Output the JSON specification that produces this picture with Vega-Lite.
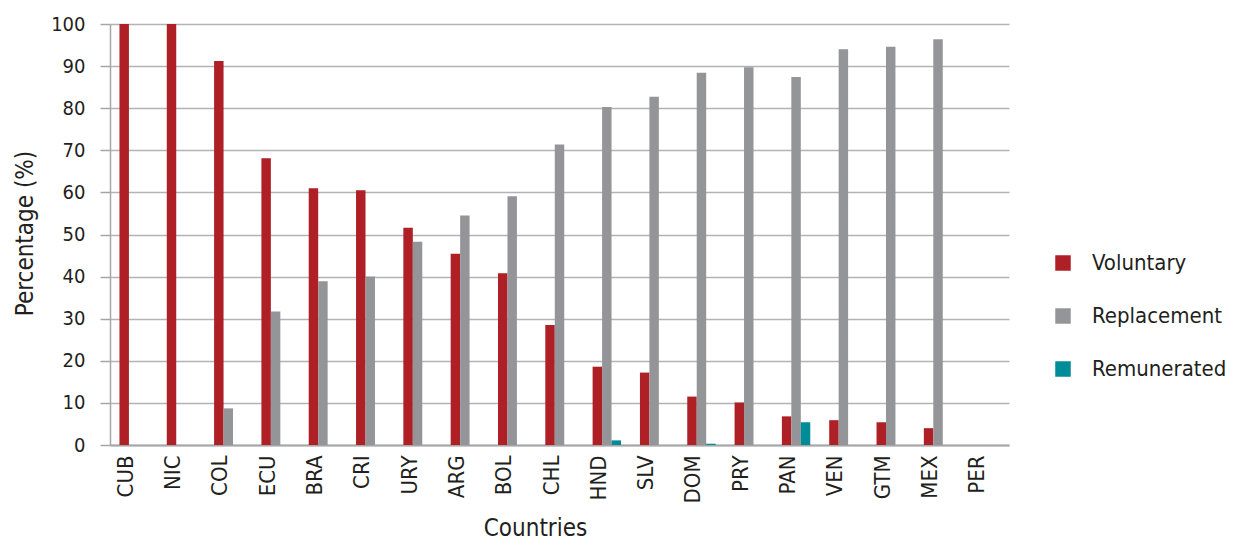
{
  "$schema": "https://vega.github.io/schema/vega-lite/v6.json",
  "width": 899,
  "height": 421,
  "autosize": {"type": "none"},
  "padding": {"left": 110, "top": 24, "right": 224, "bottom": 97},
  "background": "white",
  "config": {
    "view": {"stroke": null},
    "font": "'DejaVu Sans Condensed', 'Roboto Condensed', Roboto, sans-serif",
    "axis": {"labelFont": "'DejaVu Sans Condensed', 'Roboto Condensed', Roboto, sans-serif", "titleFont": "'DejaVu Sans Condensed', 'Roboto Condensed', Roboto, sans-serif", "labelColor": "#231F20", "titleColor": "#231F20", "titleFontWeight": "normal"},
    "legend": {"labelFont": "'DejaVu Sans Condensed', 'Roboto Condensed', Roboto, sans-serif"}
  },
  "data": {
    "values": [
      {"country": "CUB", "type": "Voluntary", "value": 100},
      {"country": "CUB", "type": "Replacement", "value": 0},
      {"country": "CUB", "type": "Remunerated", "value": 0},
      {"country": "NIC", "type": "Voluntary", "value": 100},
      {"country": "NIC", "type": "Replacement", "value": 0},
      {"country": "NIC", "type": "Remunerated", "value": 0},
      {"country": "COL", "type": "Voluntary", "value": 91.2},
      {"country": "COL", "type": "Replacement", "value": 8.7},
      {"country": "COL", "type": "Remunerated", "value": 0},
      {"country": "ECU", "type": "Voluntary", "value": 68.1},
      {"country": "ECU", "type": "Replacement", "value": 31.7},
      {"country": "ECU", "type": "Remunerated", "value": 0},
      {"country": "BRA", "type": "Voluntary", "value": 61.0},
      {"country": "BRA", "type": "Replacement", "value": 38.9},
      {"country": "BRA", "type": "Remunerated", "value": 0},
      {"country": "CRI", "type": "Voluntary", "value": 60.5},
      {"country": "CRI", "type": "Replacement", "value": 40.0},
      {"country": "CRI", "type": "Remunerated", "value": 0},
      {"country": "URY", "type": "Voluntary", "value": 51.6},
      {"country": "URY", "type": "Replacement", "value": 48.3},
      {"country": "URY", "type": "Remunerated", "value": 0},
      {"country": "ARG", "type": "Voluntary", "value": 45.4},
      {"country": "ARG", "type": "Replacement", "value": 54.5},
      {"country": "ARG", "type": "Remunerated", "value": 0},
      {"country": "BOL", "type": "Voluntary", "value": 40.8},
      {"country": "BOL", "type": "Replacement", "value": 59.1},
      {"country": "BOL", "type": "Remunerated", "value": 0},
      {"country": "CHL", "type": "Voluntary", "value": 28.5},
      {"country": "CHL", "type": "Replacement", "value": 71.4},
      {"country": "CHL", "type": "Remunerated", "value": 0},
      {"country": "HND", "type": "Voluntary", "value": 18.6},
      {"country": "HND", "type": "Replacement", "value": 80.3},
      {"country": "HND", "type": "Remunerated", "value": 1.1},
      {"country": "SLV", "type": "Voluntary", "value": 17.2},
      {"country": "SLV", "type": "Replacement", "value": 82.7},
      {"country": "SLV", "type": "Remunerated", "value": 0},
      {"country": "DOM", "type": "Voluntary", "value": 11.5},
      {"country": "DOM", "type": "Replacement", "value": 88.4},
      {"country": "DOM", "type": "Remunerated", "value": 0.3},
      {"country": "PRY", "type": "Voluntary", "value": 10.1},
      {"country": "PRY", "type": "Replacement", "value": 89.7},
      {"country": "PRY", "type": "Remunerated", "value": 0},
      {"country": "PAN", "type": "Voluntary", "value": 6.8},
      {"country": "PAN", "type": "Replacement", "value": 87.4},
      {"country": "PAN", "type": "Remunerated", "value": 5.4},
      {"country": "VEN", "type": "Voluntary", "value": 5.9},
      {"country": "VEN", "type": "Replacement", "value": 94.0},
      {"country": "VEN", "type": "Remunerated", "value": 0},
      {"country": "GTM", "type": "Voluntary", "value": 5.4},
      {"country": "GTM", "type": "Replacement", "value": 94.6},
      {"country": "GTM", "type": "Remunerated", "value": 0},
      {"country": "MEX", "type": "Voluntary", "value": 4.0},
      {"country": "MEX", "type": "Replacement", "value": 96.4},
      {"country": "MEX", "type": "Remunerated", "value": 0},
      {"country": "PER", "type": "Voluntary", "value": 0},
      {"country": "PER", "type": "Replacement", "value": 0},
      {"country": "PER", "type": "Remunerated", "value": 0}
    ]
  },
  "mark": {"type": "bar"},
  "encoding": {
    "x": {
      "field": "country",
      "type": "nominal",
      "scale": {
        "domain": ["CUB","NIC","COL","ECU","BRA","CRI","URY","ARG","BOL","CHL","HND","SLV","DOM","PRY","PAN","VEN","GTM","MEX","PER"],
        "paddingInner": 0.4,
        "paddingOuter": 0.2
      },
      "axis": {
        "title": "Countries",
        "titleFontSize": 24,
        "titleX": 425,
        "titleY": 83,
        "titleBaseline": "middle",
        "labelAngle": -90,
        "labelAlign": "right",
        "labelBaseline": "middle",
        "labelFontSize": 22,
        "labelPadding": 10,
        "labelOffset": -8,
        "ticks": false,
        "domainColor": "#A6A6A6",
        "domainWidth": 2,
        "grid": false
      }
    },
    "xOffset": {
      "field": "type",
      "type": "nominal",
      "scale": {"domain": ["Voluntary", "Replacement", "Remunerated"], "paddingInner": 0, "paddingOuter": 0}
    },
    "y": {
      "field": "value",
      "type": "quantitative",
      "scale": {"domain": [0, 100], "nice": false},
      "axis": {
        "title": "Percentage (%)",
        "titleFontSize": 24,
        "titleX": -85,
        "titleY": 209,
        "titleBaseline": "middle",
        "titleAngle": -90,
        "values": [0,10,20,30,40,50,60,70,80,90,100],
        "labelFontSize": 20,
        "labelPadding": 15,
        "tickSize": 10,
        "tickColor": "#A6A6A6",
        "tickWidth": 1.5,
        "domainColor": "#A6A6A6",
        "domainWidth": 1.5,
        "gridColor": "#B3B3B3",
        "gridWidth": 1.5
      }
    },
    "color": {
      "field": "type",
      "type": "nominal",
      "scale": {"domain": ["Voluntary", "Replacement", "Remunerated"], "range": ["#AE1F26", "#949598", "#008B98"]},
      "legend": {
        "title": null,
        "orient": "none",
        "legendX": 942,
        "legendY": 228,
        "symbolType": "square",
        "symbolSize": 240,
        "symbolStrokeWidth": 0,
        "labelFontSize": 22,
        "labelColor": "#231F20",
        "labelOffset": 18,
        "rowPadding": 31
      }
    }
  }
}
